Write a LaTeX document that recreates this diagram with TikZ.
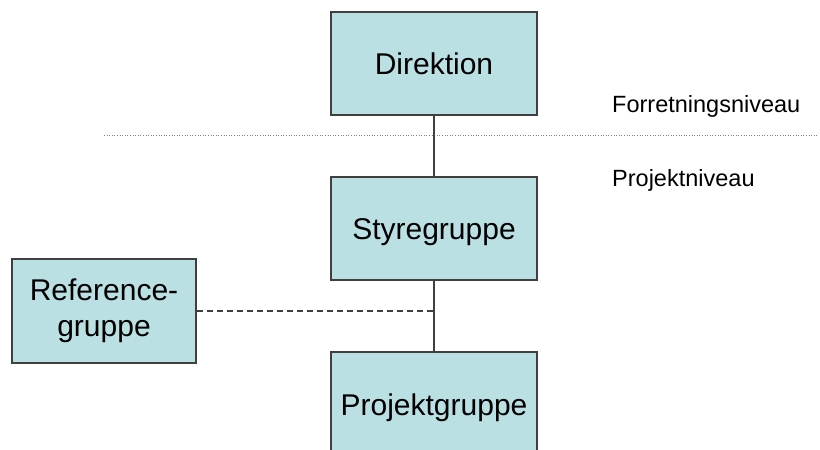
\documentclass[tikz,border=0pt]{standalone}
\usepackage{fontspec}
\setmainfont{Liberation Sans}
\definecolor{boxfill}{RGB}{186,224,227}
\definecolor{boxline}{RGB}{64,64,64}
\definecolor{levelline}{RGB}{128,128,128}
\begin{document}
\begin{tikzpicture}[x=1pt,y=-1pt,
  orgbox/.style={draw=boxline,line width=1.3pt,fill=boxfill,inner sep=0pt,
    minimum width=206pt,minimum height=103pt,align=center,
    font=\fontsize{30}{36}\selectfont},
  oneline/.style={text height=25pt,text depth=3pt},
  link/.style={draw=boxline,line width=1.2pt},
  dashlink/.style={draw=boxline,line width=1.2pt,dash pattern=on 6pt off 4pt},
  levelsep/.style={draw=levelline,line width=0.9pt,dash pattern=on 1pt off 1.6pt},
  leveltext/.style={anchor=west,inner sep=0pt,font=\fontsize{23.5}{28}\selectfont}]
  \useasboundingbox (0,0) rectangle (820,450);

  % organisation boxes
  \node[orgbox,oneline] (dir) at (434,63.5) {Direktion};
  \node[orgbox,oneline] (sty) at (434,228.5) {Styregruppe};
  \node[orgbox,minimum width=184pt,minimum height=104pt] (ref) at (104,311) {Reference-\\gruppe};
  \node[orgbox,oneline,minimum height=104pt] (proj) at (434,404) {Projektgruppe};

  % separator between the two levels
  \coordinate (sepL) at (104,135);
  \coordinate (sepR) at (818,135);
  \draw[levelsep] (sepL) -- (sepR);

  % level labels
  \node[leveltext] (forr) at (612,106) {Forretningsniveau};
  \node[leveltext] (pniv) at (612,180) {Projektniveau};

  % connectors
  \draw[link] (dir.south) -- (sty.north);
  \draw[link] (sty.south) -- (proj.north);
  \coordinate (refjoin) at (sty.south |- ref.east);
  \draw[dashlink] (ref.east) -- (refjoin);
\end{tikzpicture}
\end{document}
